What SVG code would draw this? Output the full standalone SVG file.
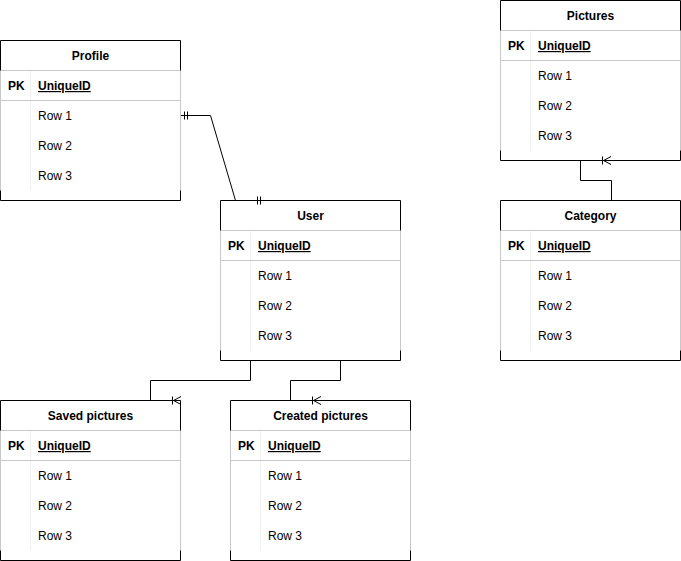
<svg xmlns="http://www.w3.org/2000/svg" width="681" height="561" viewBox="0 0 681 561">
<defs>
<style>
.bg{fill:#ffffff}
.dark{fill:none;stroke:#000;stroke-width:1}
.grey{fill:none;stroke:#c8c8c8;stroke-width:1}
.faint{fill:none;stroke:#f0f0f0;stroke-width:1}
.edge{fill:none;stroke:#000;stroke-width:1}
text{font-family:"Liberation Sans",Arial,Helvetica,sans-serif;font-size:12px;fill:#000}
.hd{font-weight:bold;text-anchor:middle}
.pk{font-weight:bold}
.uid{font-weight:bold;text-decoration:underline}
</style>
</defs>
<rect class="bg" x="0" y="0" width="681" height="561"/>

<g id="connectors">
  <path class="edge" d="M180.5,115.5 H210.5 L235.5,200.5"/>
  <path class="edge" d="M184.5,111.5 V119.5 M187.5,111.5 V119.5"/>
  <path class="edge" d="M257.5,196.5 V204.5 M260.5,196.5 V204.5"/>
  <path class="edge" d="M580.5,160.5 V180.5 H611.5 V200.5"/>
  <path class="edge" d="M602.5,156.5 V164.5 M603.5,160.5 L611,156.5 M603.5,160.5 L611,164.5"/>
  <path class="edge" d="M250.5,360.5 V380.5 H150.5 V400.5"/>
  <path class="edge" d="M172.5,396.5 V404.5 M173.5,400.5 L181,396.5 M173.5,400.5 L181,404.5"/>
  <path class="edge" d="M340.5,360.5 V380.5 H290.5 V400.5"/>
  <path class="edge" d="M312.5,396.5 V404.5 M313.5,400.5 L321,396.5 M313.5,400.5 L321,404.5"/>
</g>

<g id="profile" transform="translate(0,40)">
  <path class="faint" d="M30.5,30.5 V150.5"/>
  <path class="grey" d="M0.5,30.5 V150.5 M180.5,30.5 V150.5 M0.5,30.5 H180.5 M0.5,60.5 H180.5"/>
  <path class="dark" d="M0.5,30.5 V0.5 H180.5 V30.5 M0.5,150.5 V160.5 H180.5 V150.5"/>
  <text class="hd" x="90.5" y="20">Profile</text>
  <text class="pk" x="8" y="50">PK</text>
  <text class="uid" x="38" y="50">UniqueID</text>
  <text x="38" y="80">Row 1</text>
  <text x="38" y="110">Row 2</text>
  <text x="38" y="140">Row 3</text>
</g>

<g id="pictures" transform="translate(500,0)">
  <path class="faint" d="M30.5,30.5 V150.5"/>
  <path class="grey" d="M0.5,30.5 V150.5 M180.5,30.5 V150.5 M0.5,30.5 H180.5 M0.5,60.5 H180.5"/>
  <path class="dark" d="M0.5,30.5 V0.5 H180.5 V30.5 M0.5,150.5 V160.5 H180.5 V150.5"/>
  <text class="hd" x="90.5" y="20">Pictures</text>
  <text class="pk" x="8" y="50">PK</text>
  <text class="uid" x="38" y="50">UniqueID</text>
  <text x="38" y="80">Row 1</text>
  <text x="38" y="110">Row 2</text>
  <text x="38" y="140">Row 3</text>
</g>

<g id="user" transform="translate(220,200)">
  <path class="faint" d="M30.5,30.5 V150.5"/>
  <path class="grey" d="M0.5,30.5 V150.5 M180.5,30.5 V150.5 M0.5,30.5 H180.5 M0.5,60.5 H180.5"/>
  <path class="dark" d="M0.5,30.5 V0.5 H180.5 V30.5 M0.5,150.5 V160.5 H180.5 V150.5"/>
  <text class="hd" x="90.5" y="20">User</text>
  <text class="pk" x="8" y="50">PK</text>
  <text class="uid" x="38" y="50">UniqueID</text>
  <text x="38" y="80">Row 1</text>
  <text x="38" y="110">Row 2</text>
  <text x="38" y="140">Row 3</text>
</g>

<g id="category" transform="translate(500,200)">
  <path class="faint" d="M30.5,30.5 V150.5"/>
  <path class="grey" d="M0.5,30.5 V150.5 M180.5,30.5 V150.5 M0.5,30.5 H180.5 M0.5,60.5 H180.5"/>
  <path class="dark" d="M0.5,30.5 V0.5 H180.5 V30.5 M0.5,150.5 V160.5 H180.5 V150.5"/>
  <text class="hd" x="90.5" y="20">Category</text>
  <text class="pk" x="8" y="50">PK</text>
  <text class="uid" x="38" y="50">UniqueID</text>
  <text x="38" y="80">Row 1</text>
  <text x="38" y="110">Row 2</text>
  <text x="38" y="140">Row 3</text>
</g>

<g id="saved-pictures" transform="translate(0,400)">
  <path class="faint" d="M30.5,30.5 V150.5"/>
  <path class="grey" d="M0.5,30.5 V150.5 M180.5,30.5 V150.5 M0.5,30.5 H180.5 M0.5,60.5 H180.5"/>
  <path class="dark" d="M0.5,30.5 V0.5 H180.5 V30.5 M0.5,150.5 V160.5 H180.5 V150.5"/>
  <text class="hd" x="90.5" y="20">Saved pictures</text>
  <text class="pk" x="8" y="50">PK</text>
  <text class="uid" x="38" y="50">UniqueID</text>
  <text x="38" y="80">Row 1</text>
  <text x="38" y="110">Row 2</text>
  <text x="38" y="140">Row 3</text>
</g>

<g id="created-pictures" transform="translate(230,400)">
  <path class="faint" d="M30.5,30.5 V150.5"/>
  <path class="grey" d="M0.5,30.5 V150.5 M180.5,30.5 V150.5 M0.5,30.5 H180.5 M0.5,60.5 H180.5"/>
  <path class="dark" d="M0.5,30.5 V0.5 H180.5 V30.5 M0.5,150.5 V160.5 H180.5 V150.5"/>
  <text class="hd" x="90.5" y="20">Created pictures</text>
  <text class="pk" x="8" y="50">PK</text>
  <text class="uid" x="38" y="50">UniqueID</text>
  <text x="38" y="80">Row 1</text>
  <text x="38" y="110">Row 2</text>
  <text x="38" y="140">Row 3</text>
</g>
</svg>
